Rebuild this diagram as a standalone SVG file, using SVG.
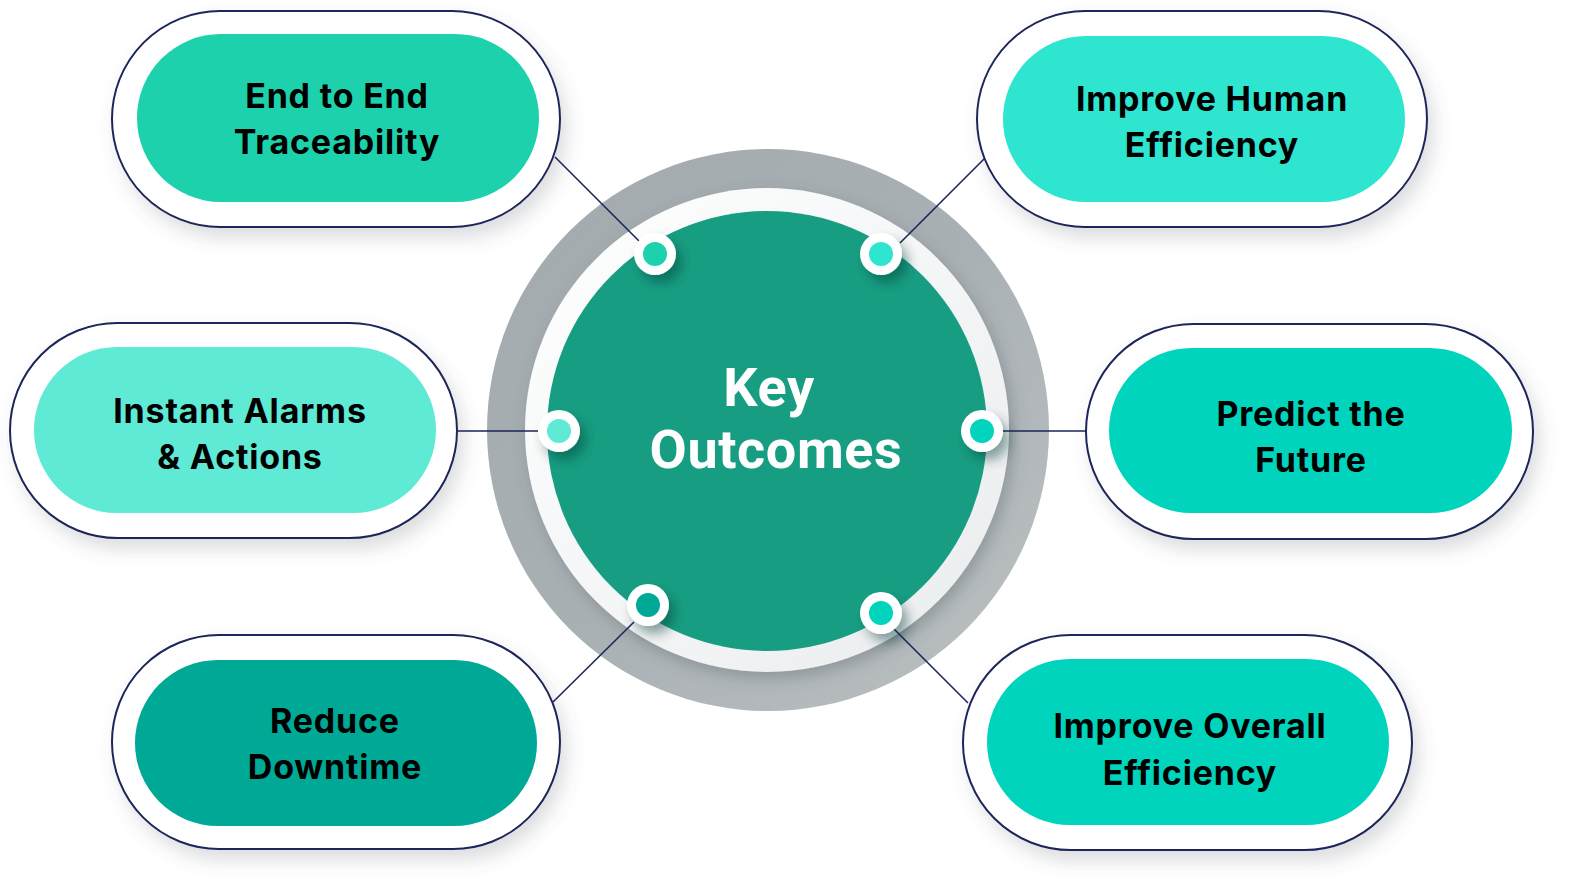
<svg xmlns="http://www.w3.org/2000/svg" width="1576" height="893" viewBox="0 0 1576 893">
<defs>
<filter id="pillShadow" x="-20%" y="-30%" width="140%" height="170%">
<feDropShadow dx="6" dy="10" stdDeviation="9" flood-color="#5a6470" flood-opacity="0.22"/>
</filter>
<filter id="dotShadow" x="-80%" y="-80%" width="260%" height="260%">
<feDropShadow dx="6" dy="8" stdDeviation="6" flood-color="#0a3a30" flood-opacity="0.45"/>
</filter>
<filter id="ringShadow" x="-20%" y="-20%" width="140%" height="140%">
<feDropShadow dx="4" dy="6" stdDeviation="8" flood-color="#4a5560" flood-opacity="0.35"/>
</filter>
<linearGradient id="grayRing" x1="0" y1="0" x2="1" y2="1">
<stop offset="0" stop-color="#a3aaae"/>
<stop offset="0.5" stop-color="#a9b0b3"/>
<stop offset="1" stop-color="#bcc1c3"/>
</linearGradient>
<linearGradient id="whiteRing" x1="0" y1="0" x2="1" y2="1">
<stop offset="0" stop-color="#ffffff"/>
<stop offset="1" stop-color="#e9ecee"/>
</linearGradient>
</defs>
<style>
.outer{fill:#ffffff;stroke:#1b2559;stroke-width:2;}
.lbl{font-family:Inter,"Liberation Sans",sans-serif;font-weight:700;font-size:34px;fill:#000000;text-anchor:middle;letter-spacing:0.8px;}
.center-lbl{font-family:Roboto,"Liberation Sans",sans-serif;font-weight:700;font-size:54px;fill:#ffffff;text-anchor:middle;letter-spacing:0.6px;}
.conn{stroke:#1b2559;stroke-width:1.6;fill:none;}
.dot-w{fill:#ffffff;}
</style>
<rect width="1576" height="893" fill="#ffffff"/>

<g id="node-end-to-end">
<rect class="outer" x="112" y="11" width="448" height="216" rx="108" filter="url(#pillShadow)"/>
<rect x="137" y="34" width="402" height="168" rx="84" fill="#1dd1ad"/>
<text class="lbl" x="337" y="108">End to End</text>
<text class="lbl" x="337" y="154">Traceability</text>
</g>

<g id="node-improve-human">
<rect class="outer" x="977" y="11" width="450" height="216" rx="108" filter="url(#pillShadow)"/>
<rect x="1003" y="36" width="402" height="166" rx="83" fill="#2ee5d0"/>
<text class="lbl" x="1212" y="111">Improve Human</text>
<text class="lbl" x="1212" y="157">Efficiency</text>
</g>

<g id="node-instant-alarms">
<rect class="outer" x="10" y="323" width="447" height="215" rx="107.5" filter="url(#pillShadow)"/>
<rect x="34" y="347" width="402" height="166" rx="83" fill="#5eead5"/>
<text class="lbl" x="240" y="423">Instant Alarms</text>
<text class="lbl" x="240" y="469">&amp; Actions</text>
</g>

<g id="node-predict">
<rect class="outer" x="1086" y="324" width="447" height="215" rx="107.5" filter="url(#pillShadow)"/>
<rect x="1109" y="348" width="403" height="165" rx="82.5" fill="#00d4bc"/>
<text class="lbl" x="1311" y="426">Predict the</text>
<text class="lbl" x="1311" y="472">Future</text>
</g>

<g id="node-reduce">
<rect class="outer" x="112" y="635" width="448" height="214" rx="107" filter="url(#pillShadow)"/>
<rect x="135" y="660" width="402" height="166" rx="83" fill="#00a896"/>
<text class="lbl" x="335" y="733">Reduce</text>
<text class="lbl" x="335" y="779">Downtime</text>
</g>

<g id="node-improve-overall">
<rect class="outer" x="963" y="635" width="449" height="215" rx="107.5" filter="url(#pillShadow)"/>
<rect x="987" y="659" width="402" height="166" rx="83" fill="#00d4bc"/>
<text class="lbl" x="1190" y="738">Improve Overall</text>
<text class="lbl" x="1190" y="785">Efficiency</text>
</g>

<g id="node-key-outcomes">
<circle cx="768" cy="430" r="281" fill="url(#grayRing)"/>
<circle cx="767" cy="430" r="242" fill="url(#whiteRing)" filter="url(#ringShadow)"/>
<circle cx="767" cy="431" r="220" fill="#179e82"/>
<text class="center-lbl" x="769" y="406">Key</text>
<text class="center-lbl" x="776" y="468">Outcomes</text>
</g>

<g id="connectors">
<line class="conn" x1="555" y1="157" x2="640" y2="242"/>
<line class="conn" x1="984" y1="159" x2="900" y2="243"/>
<line class="conn" x1="457" y1="431" x2="538" y2="431"/>
<line class="conn" x1="1003" y1="431" x2="1086" y2="431"/>
<line class="conn" x1="634" y1="622" x2="553" y2="702"/>
<line class="conn" x1="894" y1="629" x2="968" y2="703"/>
</g>

<g id="dots">
<g id="dot-tl"><circle class="dot-w" cx="655" cy="254" r="21" filter="url(#dotShadow)"/><circle cx="655" cy="254" r="12" fill="#1dd1ad"/></g>
<g id="dot-tr"><circle class="dot-w" cx="881" cy="254" r="21" filter="url(#dotShadow)"/><circle cx="881" cy="254" r="12" fill="#2ee5d0"/></g>
<g id="dot-l"><circle class="dot-w" cx="559" cy="431" r="21" filter="url(#dotShadow)"/><circle cx="559" cy="431" r="12" fill="#5eead5"/></g>
<g id="dot-r"><circle class="dot-w" cx="982" cy="431" r="21" filter="url(#dotShadow)"/><circle cx="982" cy="431" r="12" fill="#00d4bc"/></g>
<g id="dot-bl"><circle class="dot-w" cx="648" cy="605" r="21" filter="url(#dotShadow)"/><circle cx="648" cy="605" r="12" fill="#00a896"/></g>
<g id="dot-br"><circle class="dot-w" cx="881" cy="613" r="21" filter="url(#dotShadow)"/><circle cx="881" cy="613" r="12" fill="#00d4bc"/></g>
</g>
</svg>
